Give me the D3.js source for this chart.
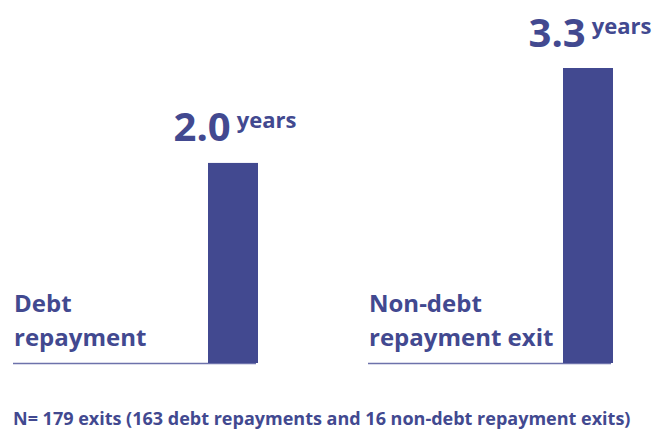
<!DOCTYPE html>
<html>
<head>
<meta charset="utf-8">
<script src="https://cdn.jsdelivr.net/npm/d3@7"></script>
<style>
  html, body { margin: 0; padding: 0; background: #fff; }
  svg { display: block; font-family: "Open Sans", sans-serif; }
</style>
</head>
<body>
<svg id="chart" width="654" height="429"></svg>
<script>
// Average holding period until exit, by exit type
const categories = ["Debt repayment", "Non-debt repayment exit"];
const labelLines = [["Debt", "repayment"], ["Non-debt", "repayment exit"]];
const values = [2.0, 3.3];
const unit = "years";
const footnote = "N= 179 exits (163 debt repayments and 16 non-debt repayment exits)";

const ink = "#424990";
const svg = d3.select("#chart");

// Each category occupies a panel: label on the left, bar on the right
const panel = d3.scaleBand().domain(categories).range([13, 723]).paddingInner(0.0);
const baseY = 363;
const y = d3.scaleLinear().domain([-0.74, 3.3]).range([baseY, 68]);
const barW = 50;
const barOffset = 195;

const g = svg.append("g");

const groups = g.selectAll("g.cat")
  .data(categories.map((c, i) => ({ c, v: values[i], lines: labelLines[i] })))
  .join("g")
  .attr("class", "cat")
  .attr("transform", d => `translate(${panel(d.c)},0)`);

// baseline under each category
groups.append("line")
  .attr("x1", 0).attr("x2", barOffset + barW - 2)
  .attr("y1", baseY + 0.5).attr("y2", baseY + 0.5)
  .attr("stroke", "#6d72ab").attr("stroke-width", 1.5);

groups.append("rect")
  .attr("x", barOffset)
  .attr("width", barW)
  .attr("y", d => y(d.v))
  .attr("height", d => baseY - y(d.v))
  .attr("fill", ink);

// category label
groups.append("text")
  .attr("fill", ink)
  .attr("font-size", 24)
  .attr("font-weight", 700)
  .selectAll("tspan")
  .data(d => d.lines)
  .join("tspan")
  .attr("x", 1)
  .attr("y", (d, i) => 312 + i * 34)
  .text(d => d);

// value label
const vl = groups.append("text")
  .attr("x", barOffset + barW / 2 + 2)
  .attr("y", d => y(d.v) - 21.5)
  .attr("text-anchor", "middle")
  .attr("fill", ink)
  .attr("font-weight", 700);
vl.append("tspan").attr("font-size", 40).text(d => d3.format(".1f")(d.v));
vl.append("tspan").attr("font-size", 22).attr("dx", 6).attr("dy", -13).text(unit);

svg.append("text")
  .attr("x", 13).attr("y", 424.5)
  .attr("fill", ink)
  .attr("font-size", 18)
  .attr("font-weight", 700)
  .text(footnote);
</script>
</body>
</html>
